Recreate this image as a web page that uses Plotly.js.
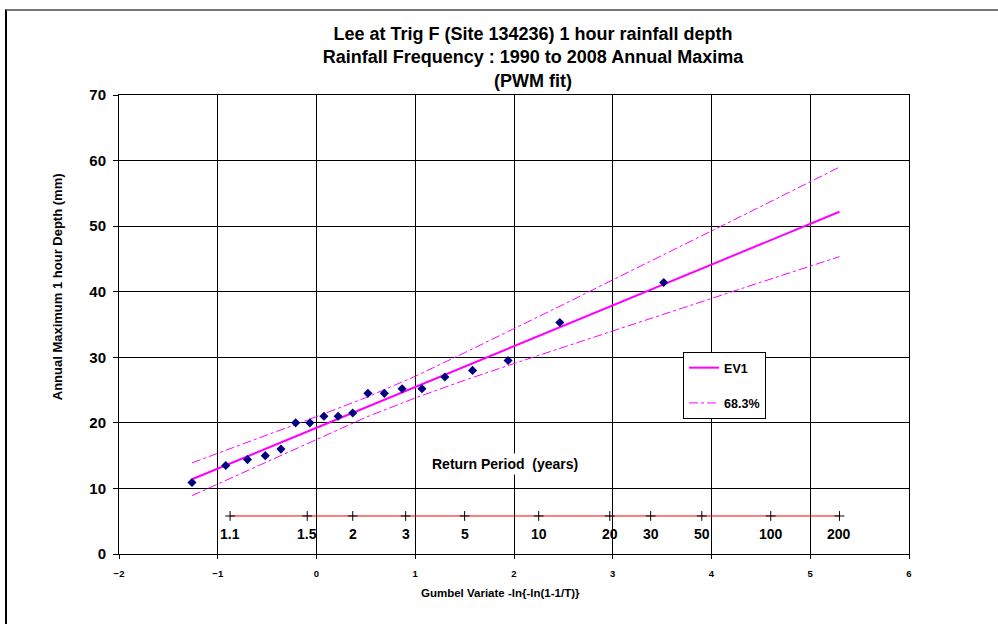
<!DOCTYPE html>
<html>
<head>
<meta charset="utf-8">
<script src="https://cdn.plot.ly/plotly-3.0.1.min.js"></script>
<style>
html,body{margin:0;padding:0;background:#fff;}
#wrap{position:relative;width:998px;height:624px;overflow:hidden;}
#chart{width:998px;height:624px;}
#frame{position:absolute;left:5px;top:9px;width:1100px;height:700px;border-left:2px solid #000;border-top:2px solid #777;pointer-events:none;}
</style>
</head>
<body>
<div id="wrap"><div id="chart"></div><div id="frame"></div></div>
<script>
// Annual maxima: Gumbel reduced variate (plotting position) and depth (mm)
const gumbelX = [3.516, 2.464, 1.940, 1.580, 1.300, 1.068, 0.867, 0.687, 0.521, 0.367, 0.219, 0.075, -0.067, -0.211, -0.360, -0.519, -0.699, -0.919, -1.261];
const depthMM = [41.4, 35.3, 29.5, 28.0, 27.0, 25.2, 25.2, 24.5, 24.5, 21.5, 21.0, 21.0, 20.0, 20.0, 16.0, 15.0, 14.4, 13.5, 10.9];

// EV1 fitted line
const evX = [-1.261, 5.296];
const evY = [11.4, 52.2];

// 68.3% confidence band
const bandX     = [-1.261, -0.5, 0, 0.5, 1, 1.5, 2, 2.5, 3, 3.5, 4, 4.5, 5.296];
const bandUpper = [13.9, 18.1, 20.95, 23.85, 27.1, 30.7, 34.35, 38.05, 41.8, 45.5, 49.3, 53.0, 59.0];
const bandLower = [8.9, 14.1, 17.55, 20.85, 23.8, 26.5, 29.05, 31.55, 34.0, 36.5, 39.0, 41.45, 45.35];

// Return period scale (years) and their Gumbel variate positions
const returnPeriodLabels = ['1.1', '1.5', '2', '3', '5', '10', '20', '30', '50', '100', '200'];
const returnPeriodX = [-0.875, -0.094, 0.367, 0.903, 1.500, 2.250, 2.970, 3.384, 3.902, 4.600, 5.296];

const rpLevel = 5.8;
const FONT = 'Liberation Sans, Arial, sans-serif';
const MAG = '#FF00FF';

const traces = [
  {
    x: evX, y: evY, mode: 'lines', name: 'EV1',
    line: {color: MAG, width: 2},
    legendgroup: 'a', showlegend: true
  },
  {
    x: bandX, y: bandUpper, mode: 'lines', name: '68.3%',
    line: {color: MAG, width: 1, dash: 'dashdot'},
    legendgroup: 'b', showlegend: true, hoverinfo: 'skip'
  },
  {
    x: bandX, y: bandLower, mode: 'lines', name: '68.3%',
    line: {color: MAG, width: 1, dash: 'dashdot'},
    legendgroup: 'b', showlegend: false, hoverinfo: 'skip'
  },
  {
    x: gumbelX, y: depthMM, mode: 'markers', name: 'Annual maxima',
    marker: {symbol: 'diamond', size: 7, color: '#000080'},
    showlegend: false
  },
  {
    x: returnPeriodX, y: returnPeriodX.map(() => rpLevel), mode: 'lines+markers',
    line: {color: '#FF0000', width: 1},
    marker: {symbol: 'cross-thin', size: 7, color: '#000000', line: {color: '#000000', width: 1}},
    showlegend: false, hoverinfo: 'skip'
  }
];

const annotations = returnPeriodLabels.map((t, i) => ({
  x: returnPeriodX[i], y: rpLevel, xref: 'x', yref: 'y',
  text: t, showarrow: false, yshift: -18,
  font: {family: FONT, size: 14, color: '#000', weight: 'bold'}
}));
annotations.push({
  x: 1.909, y: 13.73, xref: 'x', yref: 'y', text: 'Return Period  (years)', showarrow: false,
  bgcolor: '#ffffff', borderpad: 2,
  font: {family: FONT, size: 14, color: '#000', weight: 'bold'}
});
annotations.push({
  x: -0.09, y: 0.582, xref: 'paper', yref: 'paper', text: 'Annual Maximum 1 hour Depth (mm)',
  textangle: -90, showarrow: false,
  font: {family: FONT, size: 13, color: '#000', weight: 'bold'}
});
annotations.push({
  x: 0.4835, y: -0.085, xref: 'paper', yref: 'paper', text: 'Gumbel Variate -ln{-ln(1-1/T)}',
  showarrow: false, yanchor: 'middle',
  font: {family: FONT, size: 11.5, color: '#000', weight: 'bold'}
});

const layout = {
  width: 998, height: 624,
  margin: {l: 119, r: 89, t: 95, b: 70},
  paper_bgcolor: '#ffffff', plot_bgcolor: '#ffffff',
  font: {family: FONT, color: '#000'},
  title: {
    text: 'Lee at Trig F (Site 134236) 1 hour rainfall depth<br>Rainfall Frequency : 1990 to 2008 Annual Maxima<br>(PWM fit)',
    x: 0.524, xref: 'paper', xanchor: 'center',
    y: 0.936, yref: 'container', yanchor: 'top',
    font: {family: FONT, size: 18, color: '#000', weight: 'bold'}
  },
  xaxis: {
    range: [-2, 6], dtick: 1, tick0: -2,
    showgrid: true, gridcolor: '#000', gridwidth: 1,
    zeroline: false, showline: true, linecolor: '#000', linewidth: 1, mirror: true,
    ticks: 'outside', ticklen: 4, tickcolor: '#000', ticklabelstandoff: 7,
    tickfont: {family: FONT, size: 9.5, color: '#000', weight: 'bold'}
  },
  yaxis: {
    range: [0, 70], dtick: 10,
    showgrid: true, gridcolor: '#000', gridwidth: 1,
    zeroline: false, showline: true, linecolor: '#000', linewidth: 1, mirror: true,
    ticks: 'outside', ticklen: 5, tickcolor: '#000', ticklabelstandoff: 4,
    tickfont: {family: FONT, size: 15, color: '#000', weight: 'bold'}
  },
  showlegend: true,
  legend: {
    x: 0.714, y: 0.44, xanchor: 'left', yanchor: 'top',
    bgcolor: '#ffffff', bordercolor: '#000', borderwidth: 1,
    traceorder: 'grouped', tracegroupgap: 16,
    font: {family: FONT, size: 12.5, color: '#000', weight: 'bold'}
  },
  annotations: annotations
};

Plotly.newPlot('chart', traces, layout, {displayModeBar: false, staticPlot: true});
</script>
</body>
</html>
